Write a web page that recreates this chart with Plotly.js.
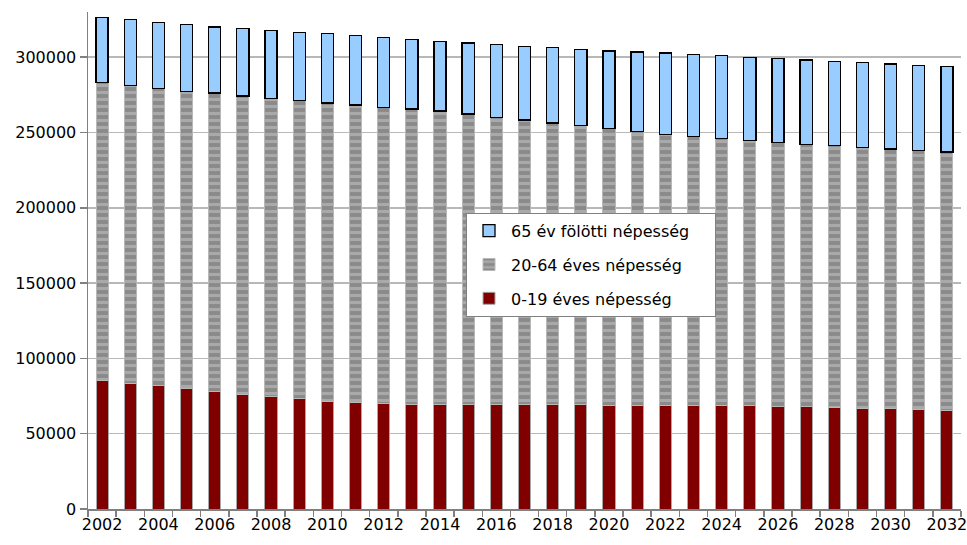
<!DOCTYPE html>
<html>
<head>
<meta charset="utf-8">
<script src="https://cdn.plot.ly/plotly-3.0.1.min.js"></script>
<style>html,body{margin:0;padding:0;background:#fff;}#chart{width:967px;height:545px;}</style>
</head>
<body>
<div id="chart"></div>
<script>
var years = [2002,2003,2004,2005,2006,2007,2008,2009,2010,2011,2012,2013,2014,2015,2016,2017,2018,2019,2020,2021,2022,2023,2024,2025,2026,2027,2028,2029,2030,2031,2032];
var age0_19 = [85300,83600,81800,79800,78000,76300,74500,73300,71500,70500,70000,69600,69400,69400,69400,69400,69300,69100,69000,69000,69000,69000,68900,68700,68300,68100,67400,67000,66500,66000,65700];
var age20_64 = [198100,197600,197600,197600,198300,198000,198300,197900,198100,197800,196700,196000,194900,192900,190700,188900,187000,185500,183800,181800,179800,178500,177100,175900,174900,174000,173900,173100,172500,171900,171300];
var age65plus = [43000,43600,43700,44300,43700,44600,45000,45400,46200,46100,46400,46200,46300,47200,48300,49000,49900,50700,51400,52700,53900,54300,54900,55400,55900,56100,56000,56400,56400,56600,56600];
var seriesNames = ['0-19 éves népesség','20-64 éves népesség','65 év fölötti népesség'];

var font = {family: 'DejaVu Sans, Verdana, sans-serif', size: 16, color: '#000'};
var pad = '\u00a0\u00a0\u00a0\u00a0';

var traces = [
  {type:'bar', x: years, y: age0_19, name: seriesNames[0] + pad, legendgroup:'a', legendrank: 3,
   marker:{color:'#800000', line:{color:'#a8a8a8', width:1}}},
  {type:'bar', x: years, y: age20_64, name: seriesNames[1] + pad, legendgroup:'b', legendrank: 2,
   marker:{color:'#8c8c8c', line:{color:'#b8b8b8', width:1},
     pattern:{shape:'-', bgcolor:'#8a8a8a', fgcolor:'#a9a9a9', size:7, solidity:0.45}}},
  {type:'bar', x: years, y: age65plus, name: seriesNames[2] + pad, legendgroup:'c', legendrank: 1,
   marker:{color:'#99ccff', line:{color:'#000', width:1.3}}}
];

var layout = {
  width: 967, height: 545,
  margin: {l: 88, r: 6, t: 12, b: 36},
  paper_bgcolor: '#fff', plot_bgcolor: '#fff',
  barmode: 'stack', bargap: 0.57,
  font: font,
  showlegend: true,
  legend: {x: 0.433, y: 0.596, xanchor: 'left', yanchor: 'top',
    bgcolor: '#fff', bordercolor: '#808080', borderwidth: 1,
    traceorder: 'grouped', tracegroupgap: 10, font: font, itemwidth: 34},
  xaxis: {type: 'linear', range: [2001.5, 2032.5], tick0: 2002, dtick: 2, ticks: '',
    showgrid: false, zeroline: false, showline: true, linecolor: '#808080', linewidth: 1.5,
    tickfont: font, ticklabeloverflow: 'allow',
    minor: {ticks: 'outside', tick0: 2001.5, dtick: 1, ticklen: 6, tickcolor: '#808080', tickwidth: 1.5, showgrid: false}},
  yaxis: {range: [0, 330000], dtick: 50000, tick0: 0, tickformat: 'd',
    ticks: 'outside', ticklen: 7, tickcolor: '#808080', tickwidth: 1.5,
    showline: true, linecolor: '#808080', linewidth: 1.5,
    showgrid: true, gridcolor: '#b8b8b8', gridwidth: 1.5, zeroline: false,
    tickfont: font}
};

Plotly.newPlot('chart', traces, layout, {staticPlot: true, displayModeBar: false});
</script>
</body>
</html>
